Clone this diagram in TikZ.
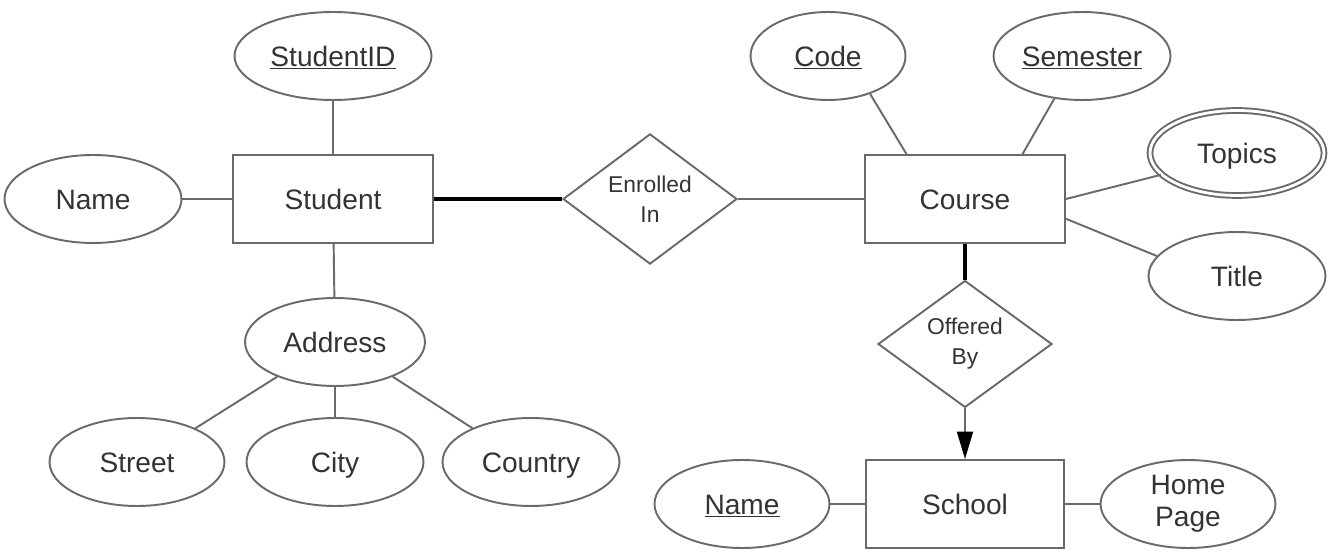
\documentclass[tikz,border=0pt]{standalone}
\usepackage{fontspec}
\setmainfont{Liberation Sans}
\usetikzlibrary{shapes.geometric,arrows.meta,calc}
\definecolor{ln}{HTML}{6A6A6A}
\definecolor{tx}{HTML}{333333}
\tikzset{
  base/.style={draw=ln, line width=1.1pt, text=tx, inner sep=0pt, font=\fontsize{16}{19}\selectfont},
  one/.style={text height=13pt, text depth=1.6pt},
  attr/.style={base, one, ellipse, minimum width=3.54cm, minimum height=1.76cm},
  attr2/.style={base, ellipse, minimum width=3.5cm, minimum height=1.76cm, align=center, font=\fontsize{16}{18}\selectfont},
  entity/.style={base, one, rectangle, minimum width=4cm, minimum height=1.76cm},
  rel/.style={base, diamond, minimum width=3.48cm, minimum height=2.24cm, align=center, font=\fontsize{13}{17}\selectfont},
  conn/.style={draw=ln, line width=1.1pt},
  thick conn/.style={draw=black, line width=2.8pt},
}
\begin{document}
\begin{tikzpicture}[x=0.02cm,y=-0.02cm]
\useasboundingbox (0,0) rectangle (1342,560);
% Student side
\node[entity] (student) at (333,199) {Student};
\node[attr, minimum width=3.94cm] (sid) at (333,56) {\underline{StudentID}};
\node[attr] (sname) at (93,199) {Name};
\node[attr, minimum width=3.6cm] (address) at (335,342) {Address};
\node[attr, minimum width=3.5cm] (street) at (137,462) {Street};
\node[attr] (city) at (335,462) {City};
\node[attr] (country) at (531,462) {Country};
% Relationships
\node[rel] (enrolled) at (650,199) {Enrolled\\In};
\node[rel, minimum height=2.16cm] (offered) at (965,344) {Offered\\By};
% Course side
\node[entity] (course) at (965,199) {Course};
\node[attr, minimum width=3.1cm] (code) at (828,56) {\underline{Code}};
\node[attr] (semester) at (1082,56) {\underline{Semester}};
\node[attr, double=white, double distance=1.6pt, minimum width=3.48cm, minimum height=1.7cm] (topics) at (1237,153) {Topics};
\node[attr] (title) at (1237,276) {Title};
% School
\node[entity, minimum width=3.96cm] (school) at (965,504) {School};
\node[attr, minimum width=3.5cm] (schname) at (742,504) {\underline{Name}};
\node[attr2] (home) at (1188,504) {Home\\Page};
% connectors
\draw[conn] (sid) -- (student);
\draw[conn] (sname) -- (student);
\draw[conn] (student) -- (address);
\draw[conn] (address.-149) -- (street.30);
\draw[conn] (address) -- (city);
\draw[conn] (address.-31) -- (country.150);
\draw[thick conn] (student) -- (enrolled);
\draw[conn] (enrolled) -- (course);
\draw[conn] (code.-42) -- ($(course.north west)!0.21!(course.north east)$);
\draw[conn] (semester.-123) -- ($(course.north west)!0.785!(course.north east)$);
\draw[conn] (course.east) -- (topics.-164);
\draw[conn] ($(course.north east)!0.72!(course.south east)$) -- (title.166);
\draw[thick conn] (course) -- (offered);
\draw[conn, -{Triangle[length=0.55cm, width=0.32cm, color=black, fill=black]}] (offered) -- (school);
\draw[conn] (schname) -- (school);
\draw[conn] (school) -- (home);
\end{tikzpicture}
\end{document}
